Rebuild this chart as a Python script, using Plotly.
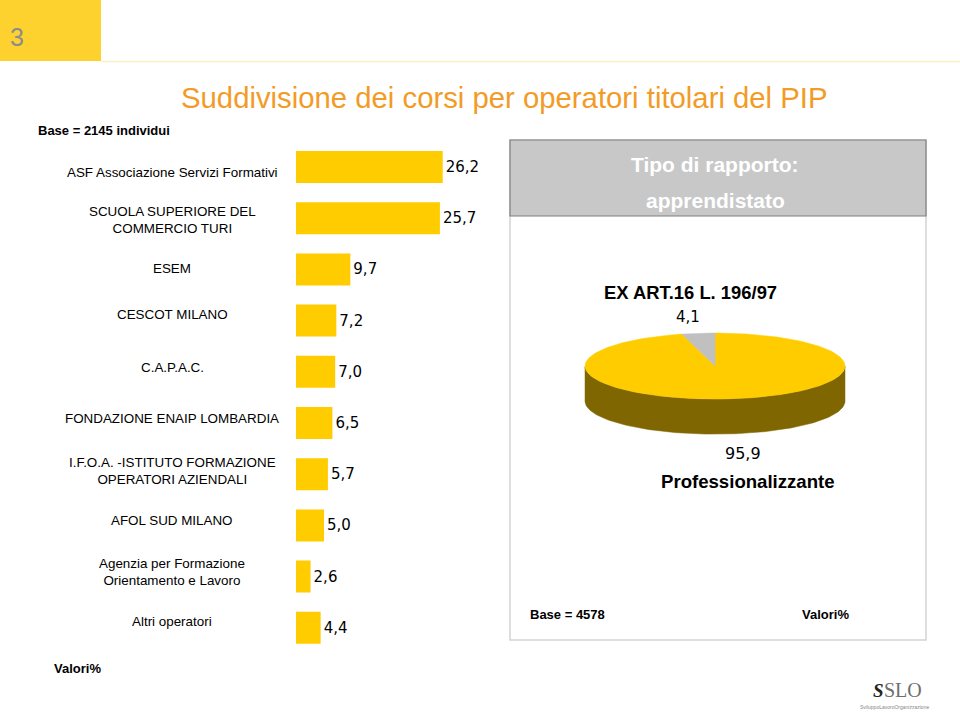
import math
import plotly.graph_objects as go

W, H = 960, 712

# ---- data ----
categories = [
    "ASF Associazione Servizi Formativi",
    "SCUOLA SUPERIORE DEL<br>COMMERCIO TURI",
    "ESEM",
    "CESCOT MILANO",
    "C.A.P.A.C.",
    "FONDAZIONE ENAIP LOMBARDIA",
    "I.F.O.A. -ISTITUTO FORMAZIONE<br>OPERATORI AZIENDALI",
    "AFOL SUD MILANO",
    "Agenzia per Formazione<br>Orientamento e Lavoro",
    "Altri operatori",
]
values = [26.2, 25.7, 9.7, 7.2, 7.0, 6.5, 5.7, 5.0, 2.6, 4.4]

pie_labels = ["Professionalizzante", "EX ART.16 L. 196/97"]
pie_values = [95.9, 4.1]
pie_colors = ["#FFCC00", "#C0C0C0"]
pie_side_colors = ["#806600", "#606060"]

title = "Suddivisione dei corsi per operatori titolari del PIP"
base_left = "Base = 2145 individui"
base_right = "Base = 4578"
header_lines = ["Tipo di rapporto:", "apprendistato"]

# label vertical nudges (pixels, upward positive)
label_shift = [-5, -2, 1, 6, 4, 5, 3, 5, 5, 6]


def fmt(v):
    return f"{v:.1f}".replace(".", ",")


def px(x):
    return x / W


def py(y):
    return 1 - y / H


fig = go.Figure()

# ---- bar chart ----
fig.add_trace(go.Bar(
    y=categories, x=values, orientation="h",
    marker=dict(color="#FFCC00", line=dict(width=0)),
    text=[fmt(v) for v in values], textposition="outside",
    textfont=dict(family="DejaVu Sans", size=15, color="#000000"),
    constraintext="none", cliponaxis=False, hoverinfo="skip",
    xaxis="x", yaxis="y",
))

# ---- 3D pie built from the shares ----
TILT = 0.254
DEPTH = 0.27
N = 240
total = sum(pie_values)
start = 90.0
angles = []
a = start
for v in pie_values:
    sweep = 360.0 * v / total
    angles.append((a, a - sweep))  # clockwise
    a -= sweep

# sides (front half only)
for (a0, a1), col in zip(angles, pie_side_colors):
    n = max(int(abs(a0 - a1) / 360 * N), 2)
    pts = [a0 + (a1 - a0) * k / n for k in range(n + 1)]
    runs, cur = [], []
    for t in pts:
        if math.sin(math.radians(t)) <= 1e-9:
            cur.append(t)
        else:
            if cur:
                runs.append(cur)
            cur = []
    if cur:
        runs.append(cur)
    for run in runs:
        if len(run) < 2:
            continue
        xs = [math.cos(math.radians(t)) for t in run]
        ys = [TILT * math.sin(math.radians(t)) for t in run]
        xs2 = xs[::-1]
        ys2 = [y - DEPTH for y in ys[::-1]]
        fig.add_trace(go.Scatter(
            x=xs + xs2 + [xs[0]], y=ys + ys2 + [ys[0]],
            mode="lines", fill="toself", fillcolor=col,
            line=dict(width=0.5, color=col), hoverinfo="skip",
            showlegend=False, xaxis="x2", yaxis="y2"))

# top
for (a0, a1), col in zip(angles, pie_colors):
    n = max(int(abs(a0 - a1) / 360 * N), 2)
    pts = [a0 + (a1 - a0) * k / n for k in range(n + 1)]
    xs = [0] + [math.cos(math.radians(t)) for t in pts] + [0]
    ys = [0] + [TILT * math.sin(math.radians(t)) for t in pts] + [0]
    fig.add_trace(go.Scatter(
        x=xs, y=ys, mode="lines", fill="toself", fillcolor=col,
        line=dict(width=0.5, color=col), hoverinfo="skip",
        showlegend=False, xaxis="x2", yaxis="y2"))

# ---- layout ----
band = 51.2
y_top = 167 - band / 2
y_bot = 167 + band * 9.5
fig.update_layout(
    width=W, height=H, margin=dict(l=0, r=0, t=0, b=0),
    paper_bgcolor="white", plot_bgcolor="rgba(0,0,0,0)",
    showlegend=False, bargap=0.375,
    xaxis=dict(domain=[px(296), px(496)], range=[0, 200 / 5.6],
               visible=False, fixedrange=True),
    yaxis=dict(domain=[py(y_bot), py(y_top)], autorange="reversed",
               visible=False, categoryorder="array", categoryarray=categories),
    xaxis2=dict(domain=[px(559), px(871)], range=[-1.2, 1.2], visible=False),
    yaxis2=dict(domain=[py(456), py(316)], range=[-0.692, 0.385], visible=False),
    font=dict(family="Liberation Sans, Arial, sans-serif", color="#000000"),
)

shapes = [
    # top-left yellow block
    dict(type="rect", xref="paper", yref="paper", x0=0, x1=px(101), y0=py(61), y1=1,
         fillcolor="#FDD22F", line=dict(width=0), layer="below"),
    dict(type="line", xref="paper", yref="paper", x0=px(101), x1=1, y0=py(61.5), y1=py(61.5),
         line=dict(color="#FBEFC6", width=1.5)),
    # right panel box
    dict(type="rect", xref="paper", yref="paper", x0=px(510), x1=px(926), y0=py(640), y1=py(140),
         fillcolor="rgba(0,0,0,0)", line=dict(color="#D4D4D4", width=1.5), layer="below"),
    # header
    dict(type="rect", xref="paper", yref="paper", x0=px(510), x1=px(926), y0=py(216), y1=py(140),
         fillcolor="#C8C8C8", line=dict(color="#7F7F7F", width=1.2), layer="below"),
]
fig.update_layout(shapes=shapes)

ann = []
# category labels
for c, s in zip(categories, label_shift):
    ann.append(dict(xref="paper", yref="y", x=px(172), y=c, text=c, showarrow=False,
                    xanchor="center", yanchor="middle", align="center", yshift=s,
                    font=dict(size=13.4, family="Liberation Sans, Arial")))
ann += [
    dict(xref="paper", yref="paper", x=px(17), y=py(37), text="3", showarrow=False,
         xanchor="center", yanchor="middle", font=dict(size=25, color="#8C8C8C")),
    dict(xref="paper", yref="paper", x=px(504), y=py(97), text=title, showarrow=False,
         xanchor="center", yanchor="middle", font=dict(size=29.3, color="#F29B26")),
    dict(xref="paper", yref="paper", x=px(36), y=py(130), text="<b>" + base_left + "</b>",
         showarrow=False, xanchor="left", yanchor="middle", font=dict(size=13)),
    dict(xref="paper", yref="paper", x=px(52), y=py(668), text="<b>Valori%</b>",
         showarrow=False, xanchor="left", yanchor="middle", font=dict(size=13)),
    dict(xref="paper", yref="paper", x=px(715), y=py(164), text="<b>" + header_lines[0] + "</b>",
         showarrow=False, xanchor="center", yanchor="middle", font=dict(size=21, color="white")),
    dict(xref="paper", yref="paper", x=px(715), y=py(200), text="<b>" + header_lines[1] + "</b>",
         showarrow=False, xanchor="center", yanchor="middle", font=dict(size=21, color="white")),
    dict(xref="paper", yref="paper", x=px(690), y=py(292), text="<b>" + pie_labels[1] + "</b>",
         showarrow=False, xanchor="center", yanchor="middle", font=dict(size=18.4)),
    dict(xref="paper", yref="paper", x=px(688), y=py(317), text=fmt(pie_values[1]),
         showarrow=False, xanchor="center", yanchor="middle",
         font=dict(size=15, family="DejaVu Sans")),
    dict(xref="paper", yref="paper", x=px(743), y=py(453), text=fmt(pie_values[0]),
         showarrow=False, xanchor="center", yanchor="middle",
         font=dict(size=16, family="DejaVu Sans")),
    dict(xref="paper", yref="paper", x=px(748), y=py(481), text="<b>" + pie_labels[0] + "</b>",
         showarrow=False, xanchor="center", yanchor="middle", font=dict(size=18.6)),
    dict(xref="paper", yref="paper", x=px(528), y=py(614), text="<b>" + base_right + "</b>",
         showarrow=False, xanchor="left", yanchor="middle", font=dict(size=13)),
    dict(xref="paper", yref="paper", x=px(800), y=py(614), text="<b>Valori%</b>",
         showarrow=False, xanchor="left", yanchor="middle", font=dict(size=13)),
    # logo
    dict(xref="paper", yref="paper", x=px(878), y=py(690),
         text="<b><i>S</i></b>", showarrow=False, xanchor="center", yanchor="middle",
         font=dict(size=19, color="#222222", family="Liberation Serif, DejaVu Serif")),
    dict(xref="paper", yref="paper", x=px(903), y=py(690), text="SLO", showarrow=False,
         xanchor="center", yanchor="middle",
         font=dict(size=20, color="#6E6E6E", family="Liberation Serif, DejaVu Serif")),
    dict(xref="paper", yref="paper", x=px(894), y=py(706.5), text="SviluppoLavoroOrganizzazione",
         showarrow=False, xanchor="center", yanchor="middle",
         font=dict(size=5, color="#888888")),
]
fig.update_layout(annotations=ann)

fig.write_html(
    "out.html",
    config={"displayModeBar": False},
    post_script="document.body.style.margin='0';document.body.style.overflow='hidden';",
)
